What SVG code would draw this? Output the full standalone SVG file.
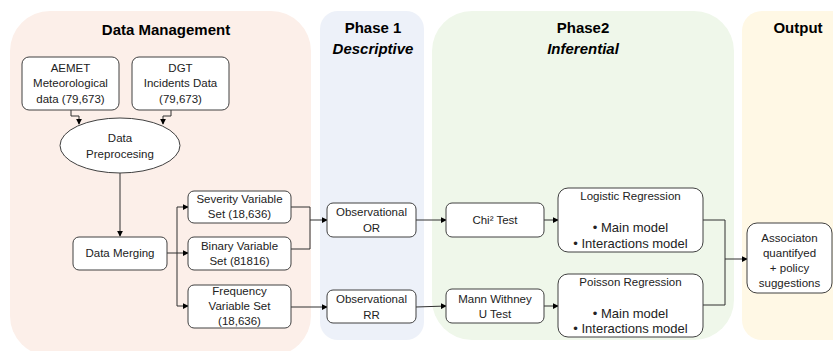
<svg xmlns="http://www.w3.org/2000/svg" width="833" height="351" viewBox="0 0 833 351">
<defs>
<marker id="arr" viewBox="0 0 8 8" refX="7" refY="4" markerWidth="6" markerHeight="6" orient="auto" markerUnits="userSpaceOnUse">
<path d="M0,0 L8,4 L0,8 z" fill="#000"/>
</marker>
<style>
.box{fill:#fff;stroke:#404040;stroke-width:1}
.t{font-family:"Liberation Sans",Arial,sans-serif;font-size:11.5px;fill:#222;text-anchor:middle}
.b{font-size:13px}
.h{font-family:"Liberation Sans",Arial,sans-serif;font-size:15px;font-weight:bold;fill:#000;text-anchor:middle}
.hi{font-style:italic}
.c{fill:none;stroke:#303030;stroke-width:1}
</style>
</defs>
<rect width="833" height="351" fill="#fff"/>
<g id="panels">
<rect x="10" y="11" width="301" height="345" rx="40" fill="#fcefe9"/>
<rect x="320" y="11" width="104" height="329" rx="18" fill="#edf1f9"/>
<rect x="432" y="11" width="302" height="329" rx="40" fill="#eff7ea"/>
<rect x="742" y="11" width="120" height="329" rx="20" fill="#fff8e5"/>
<text class="h" x="166" y="35">Data Management</text>
<text class="h" x="373" y="33">Phase 1</text>
<text class="h hi" x="373" y="54">Descriptive</text>
<text class="h" x="583" y="33">Phase2</text>
<text class="h hi" x="583" y="54">Inferential</text>
<text class="h" x="798" y="33">Output</text>
</g>
<g id="connectors">
<polyline class="c" points="71,110 71,116 79,116 79,124" marker-end="url(#arr)"/>
<polyline class="c" points="171,110 171,116 163,116 163,124" marker-end="url(#arr)"/>
<line class="c" x1="120" y1="173" x2="120" y2="236" marker-end="url(#arr)"/>
<line class="c" x1="167" y1="253" x2="188" y2="253" marker-end="url(#arr)"/>
<polyline class="c" points="177,253 177,207 188,207" marker-end="url(#arr)"/>
<polyline class="c" points="177,253 177,306 188,306" marker-end="url(#arr)"/>
<polyline class="c" points="291,207 310,207 310,249 291,249"/>
<line class="c" x1="310" y1="220" x2="327" y2="220" marker-end="url(#arr)"/>
<line class="c" x1="291" y1="307" x2="327" y2="307" marker-end="url(#arr)"/>
<line class="c" x1="416" y1="220" x2="446" y2="220" marker-end="url(#arr)"/>
<line class="c" x1="416" y1="307" x2="446" y2="306" marker-end="url(#arr)"/>
<line class="c" x1="544" y1="220" x2="558" y2="220" marker-end="url(#arr)"/>
<line class="c" x1="544" y1="306" x2="558" y2="306" marker-end="url(#arr)"/>
<polyline class="c" points="703,220 725,220 725,305 703,305"/>
<line class="c" x1="725" y1="259" x2="747" y2="259" marker-end="url(#arr)"/>
</g>
<g id="aemet">
<rect class="box" x="22" y="57" width="97" height="53" rx="7"/>
<text class="t" x="70.5" y="72">AEMET</text>
<text class="t" x="70.5" y="87">Meteorological</text>
<text class="t" x="70.5" y="103">data (79,673)</text>
</g>
<g id="dgt">
<rect class="box" x="132" y="57" width="97" height="53" rx="7"/>
<text class="t" x="180.5" y="72">DGT</text>
<text class="t" x="180.5" y="87">Incidents Data</text>
<text class="t" x="180.5" y="103">(79,673)</text>
</g>
<g id="preprocessing">
<ellipse class="box" cx="120" cy="145.5" rx="60" ry="27.5"/>
<text class="t" x="120" y="142">Data</text>
<text class="t" x="120" y="158">Preprocesing</text>
</g>
<g id="merging">
<rect class="box" x="73" y="237" width="94" height="33" rx="6"/>
<text class="t" x="120" y="257">Data Merging</text>
</g>
<g id="severity">
<rect class="box" x="188" y="191" width="103" height="32" rx="6"/>
<text class="t" x="239.5" y="203">Severity Variable</text>
<text class="t" x="239.5" y="218">Set (18,636)</text>
</g>
<g id="binary">
<rect class="box" x="188" y="237" width="103" height="33" rx="6"/>
<text class="t" x="239.5" y="250">Binary Variable</text>
<text class="t" x="239.5" y="265">Set (81816)</text>
</g>
<g id="frequency">
<rect class="box" x="188" y="285" width="103" height="43" rx="6"/>
<text class="t" x="239.5" y="295">Frequency</text>
<text class="t" x="239.5" y="310">Variable Set</text>
<text class="t" x="239.5" y="325">(18,636)</text>
</g>
<g id="obs-or">
<rect class="box" x="327" y="203" width="89" height="34" rx="6"/>
<text class="t" x="371.5" y="216">Observational</text>
<text class="t" x="371.5" y="232">OR</text>
</g>
<g id="obs-rr">
<rect class="box" x="327" y="290" width="89" height="33" rx="6"/>
<text class="t" x="371.5" y="303">Observational</text>
<text class="t" x="371.5" y="319">RR</text>
</g>
<g id="chi">
<rect class="box" x="446" y="203" width="98" height="34" rx="6"/>
<text class="t" x="495" y="224">Chi² Test</text>
</g>
<g id="mann">
<rect class="box" x="446" y="289" width="98" height="34" rx="6"/>
<text class="t" x="495" y="303">Mann Withney</text>
<text class="t" x="495" y="318">U Test</text>
</g>
<g id="logistic">
<rect class="box" x="558" y="188" width="145" height="64" rx="10"/>
<text class="t" x="630.5" y="200">Logistic Regression</text>
<text class="t b" x="630.5" y="232">•  Main model</text>
<text class="t b" x="630.5" y="248">•  Interactions model</text>
</g>
<g id="poisson">
<rect class="box" x="558" y="274" width="145" height="63" rx="10"/>
<text class="t" x="630.5" y="286">Poisson Regression</text>
<text class="t b" x="630.5" y="318">•  Main model</text>
<text class="t b" x="630.5" y="333">•  Interactions model</text>
</g>
<g id="output">
<rect class="box" x="747" y="223" width="85" height="70" rx="10"/>
<text class="t" x="789.5" y="242">Associaton</text>
<text class="t" x="789.5" y="257">quantifyed</text>
<text class="t" x="789.5" y="272">+ policy</text>
<text class="t" x="789.5" y="287">suggestions</text>
</g>
</svg>
